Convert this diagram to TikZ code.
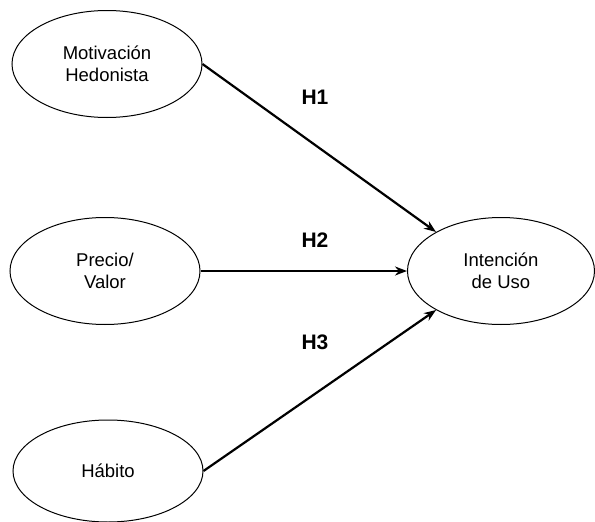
\documentclass[tikz,border=0pt]{standalone}
\usepackage{fontspec}
\setmainfont{Liberation Sans}
\usetikzlibrary{arrows.meta,shapes.geometric,positioning}

\begin{document}
\begin{tikzpicture}[x=1pt,y=-1pt,>={Stealth[length=12pt,width=9pt]},
  constructo/.style={ellipse,draw,line width=1pt,minimum width=190pt,minimum height=107pt,
    inner sep=0pt,align=center,font=\fontsize{18.5}{22}\selectfont},
  hipotesis/.style={->,line width=2.2pt},
  etiqueta/.style={font=\fontsize{21}{24}\selectfont\bfseries}]
\useasboundingbox (0,0) rectangle (595,522);
\node[constructo] (motivacion) at (107,64) {Motivación\\Hedonista};
\node[constructo] (precio) at (105,271) {Precio/\\Valor};
\node[constructo,minimum height=102pt] (habito) at (108,471) {Hábito};
\node[constructo,minimum width=187pt] (intencion) at (501,271) {Intención\\de Uso};
\draw[hipotesis] (motivacion.east) -- (intencion.149);
\draw[hipotesis] (precio.east) -- (intencion.west);
\draw[hipotesis] (habito.east) -- (intencion.211);
\node[etiqueta] (h1) at (315,97) {H1};
\node[etiqueta] (h2) at (315,240) {H2};
\node[etiqueta] (h3) at (315,342) {H3};
\end{tikzpicture}
\end{document}
